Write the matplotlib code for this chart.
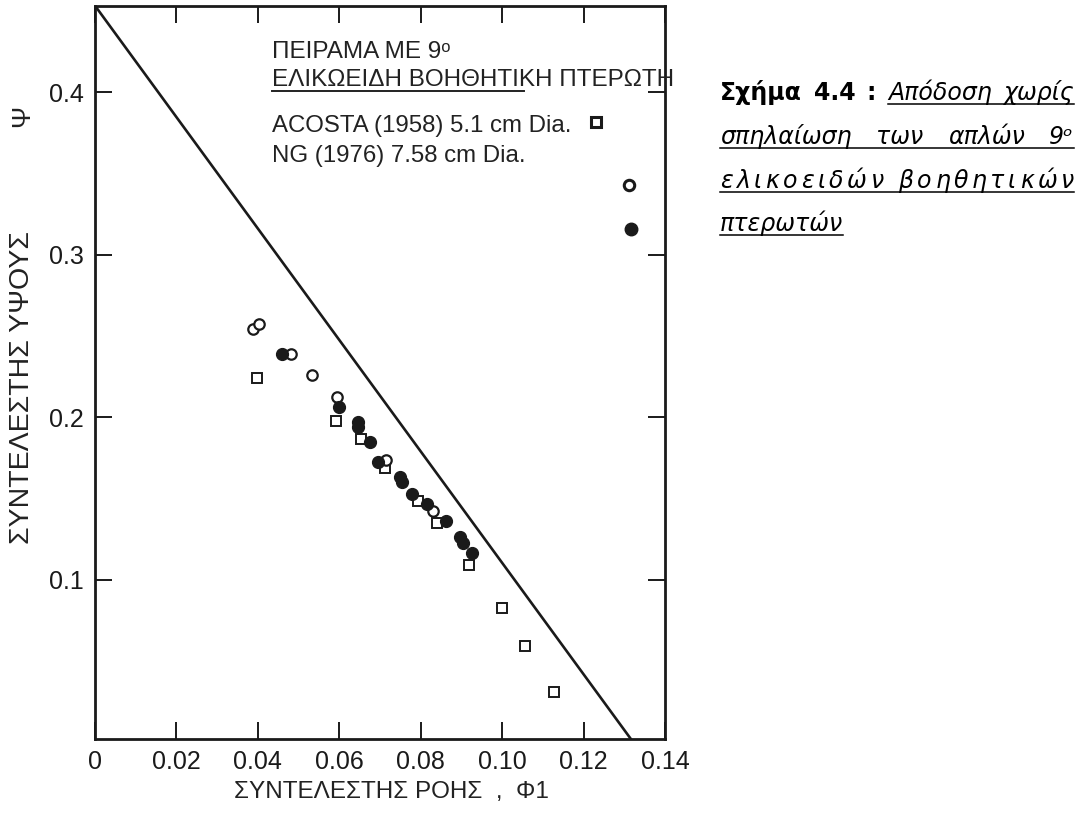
import matplotlib
matplotlib.use("Agg")
import matplotlib.pyplot as plt
from matplotlib.lines import Line2D

W, H = 1083, 814

# NG (1976) - open circles
open_phi = [0.0388, 0.0403, 0.0481, 0.0533, 0.0594, 0.0715, 0.0830]
open_psi = [0.2545, 0.2575, 0.2390, 0.2261, 0.2126, 0.1738, 0.1423]

# NG (1976) - filled circles
filled_phi = [0.0459, 0.0599, 0.0646, 0.0646, 0.0676, 0.0695, 0.0749, 0.0754,
              0.0779, 0.0816, 0.0862, 0.0897, 0.0904, 0.0926]
filled_psi = [0.2391, 0.2064, 0.1972, 0.1941, 0.1848, 0.1725, 0.1633, 0.1602,
              0.1528, 0.1466, 0.1362, 0.1263, 0.1226, 0.1165]

# ACOSTA (1958) - squares
sq_phi = [0.0398, 0.0592, 0.0653, 0.0712, 0.0793, 0.0840, 0.0919, 0.1000, 0.1056, 0.1127]
sq_psi = [0.2243, 0.1978, 0.1867, 0.1688, 0.1485, 0.1349, 0.1091, 0.0826, 0.0592, 0.0308]

# limit line
line_phi = [0.0, 0.1322]
line_psi = [0.4532, 0.0]

x_ticks = [0, 0.02, 0.04, 0.06, 0.08, 0.10, 0.12, 0.14]
x_ticklabels = ["0", "0.02", "0.04", "0.06", "0.08", "0.10", "0.12", "0.14"]
y_ticks = [0.1, 0.2, 0.3, 0.4]
y_ticklabels = ["0.1", "0.2", "0.3", "0.4"]

SANS = ["Liberation Sans", "DejaVu Sans"]
plt.rcParams["font.family"] = SANS
INK = "#1a1a1a"

fig = plt.figure(figsize=(W / 100, H / 100), dpi=100)
ax = fig.add_axes([95 / W, 1 - 739 / H, 570 / W, 733 / H])

ax.plot(line_phi, line_psi, color=INK, lw=1.9, solid_capstyle="butt")
ax.plot(sq_phi, sq_psi, "s", ms=7, mfc="white", mec=INK, mew=1.4, ls="none")
ax.plot(open_phi, open_psi, "o", ms=7.5, mfc="white", mec=INK, mew=1.6, ls="none")
ax.plot(filled_phi, filled_psi, "o", ms=8.5, color=INK, ls="none")

ax.set_xlim(0, 0.14)
ax.set_ylim(0.002, 0.453)
ax.set_xticks(x_ticks)
ax.set_xticklabels(x_ticklabels)
ax.set_yticks(y_ticks)
ax.set_yticklabels(y_ticklabels)
ax.tick_params(direction="in", top=True, right=True, length=12, width=1.4,
               labelsize=18, pad=8, colors=INK)
for s in ax.spines.values():
    s.set_linewidth(2.0)
    s.set_color(INK)

# legend block drawn inside the axes (positions in axes fraction)
tx = lambda x: (x - 95) / 570
ty = lambda y: (739 - y) / 733
ax.text(tx(272), ty(58), "ΠΕΙΡΑΜΑ ΜΕ 9ᵒ", transform=ax.transAxes, fontsize=17.5,
        va="baseline", color="#222222")
ax.text(tx(272), ty(86), "ΕΛΙΚΩΕΙΔΗ ΒΟΗΘΗΤΙΚΗ ΠΤΕΡΩΤΗ", transform=ax.transAxes,
        fontsize=17.5, va="baseline", color="#222222", clip_on=False)
ax.plot([tx(272), tx(524)], [ty(91), ty(91)], transform=ax.transAxes,
        color="#222222", lw=1.4, clip_on=False)
ax.text(tx(272), ty(132), "ACOSTA (1958) 5.1 cm Dia.", transform=ax.transAxes,
        fontsize=17.3, va="baseline", color="#222222")
ax.text(tx(272), ty(162), "NG (1976) 7.58 cm Dia.", transform=ax.transAxes,
        fontsize=17.3, va="baseline", color="#222222")
ax.plot([tx(596)], [ty(122)], "s", transform=ax.transAxes, ms=6.5, mfc="white",
        mec=INK, mew=2.2)
ax.plot([tx(629)], [ty(185)], "o", transform=ax.transAxes, ms=7.5, mfc="white",
        mec=INK, mew=2.2)
ax.plot([tx(631)], [ty(229)], "o", transform=ax.transAxes, ms=9, color=INK)

# axis labels
fig.text(391 / W, 1 - 792 / H, "ΣΥΝΤΕΛΕΣΤΗΣ ΡΟΗΣ  ,  Φ1", ha="center", va="center",
         fontsize=17.5, color="#222222")
fig.text(22 / W, 1 - 388 / H, "ΣΥΝΤΕΛΕΣΤΗΣ ΥΨΟΥΣ", rotation=90, ha="center",
         va="center", fontsize=20.5, color="#222222",
         family=["Liberation Sans Narrow", "Liberation Sans", "DejaVu Sans"])
fig.text(22 / W, 1 - 116 / H, "Ψ", rotation=90, ha="center", va="center",
         fontsize=19, color="#222222")

# caption at the right, justified like the source document
renderer = fig.canvas.get_renderer()
CAP = dict(fontsize=17, family="DejaVu Sans", color="black", va="baseline")
BOLD = dict(CAP, weight="bold")
ITAL = dict(CAP, style="italic")


def justify(tokens, styles, y, x0, x1):
    texts = [fig.text(0, 1 - y / H, t, **st) for t, st in zip(tokens, styles)]
    widths = [t.get_window_extent(renderer).width for t in texts]
    gap = (x1 - x0 - sum(widths)) / (len(texts) - 1)
    x = x0
    lefts = []
    for t, w in zip(texts, widths):
        t.set_x(x / W)
        lefts.append(x)
        x += w + gap
    return lefts


def underline(x0, x1, y):
    fig.add_artist(Line2D([x0 / W, x1 / W], [1 - y / H] * 2, color="black", lw=1.1))


L, R = 720, 1074
lefts = justify(["Σχήμα", "4.4", ":", "Απόδοση", "χωρίς"],
                [BOLD, BOLD, BOLD, ITAL, ITAL], 100, L, R)
underline(lefts[3], R, 104)
justify(["σπηλαίωση", "των", "απλών", "9ᵒ"], [ITAL] * 4, 144, L, R)
underline(L, R, 148)
chars = list("ελικοειδών βοηθητικών")
justify(chars, [ITAL] * len(chars), 188, L, R)
underline(L, R, 192)
t4 = fig.text(L / W, 1 - 231 / H, "πτερωτών", **ITAL)
w4 = t4.get_window_extent(renderer).width
underline(L, L + w4, 235)

fig.savefig("out.png", dpi=100)
